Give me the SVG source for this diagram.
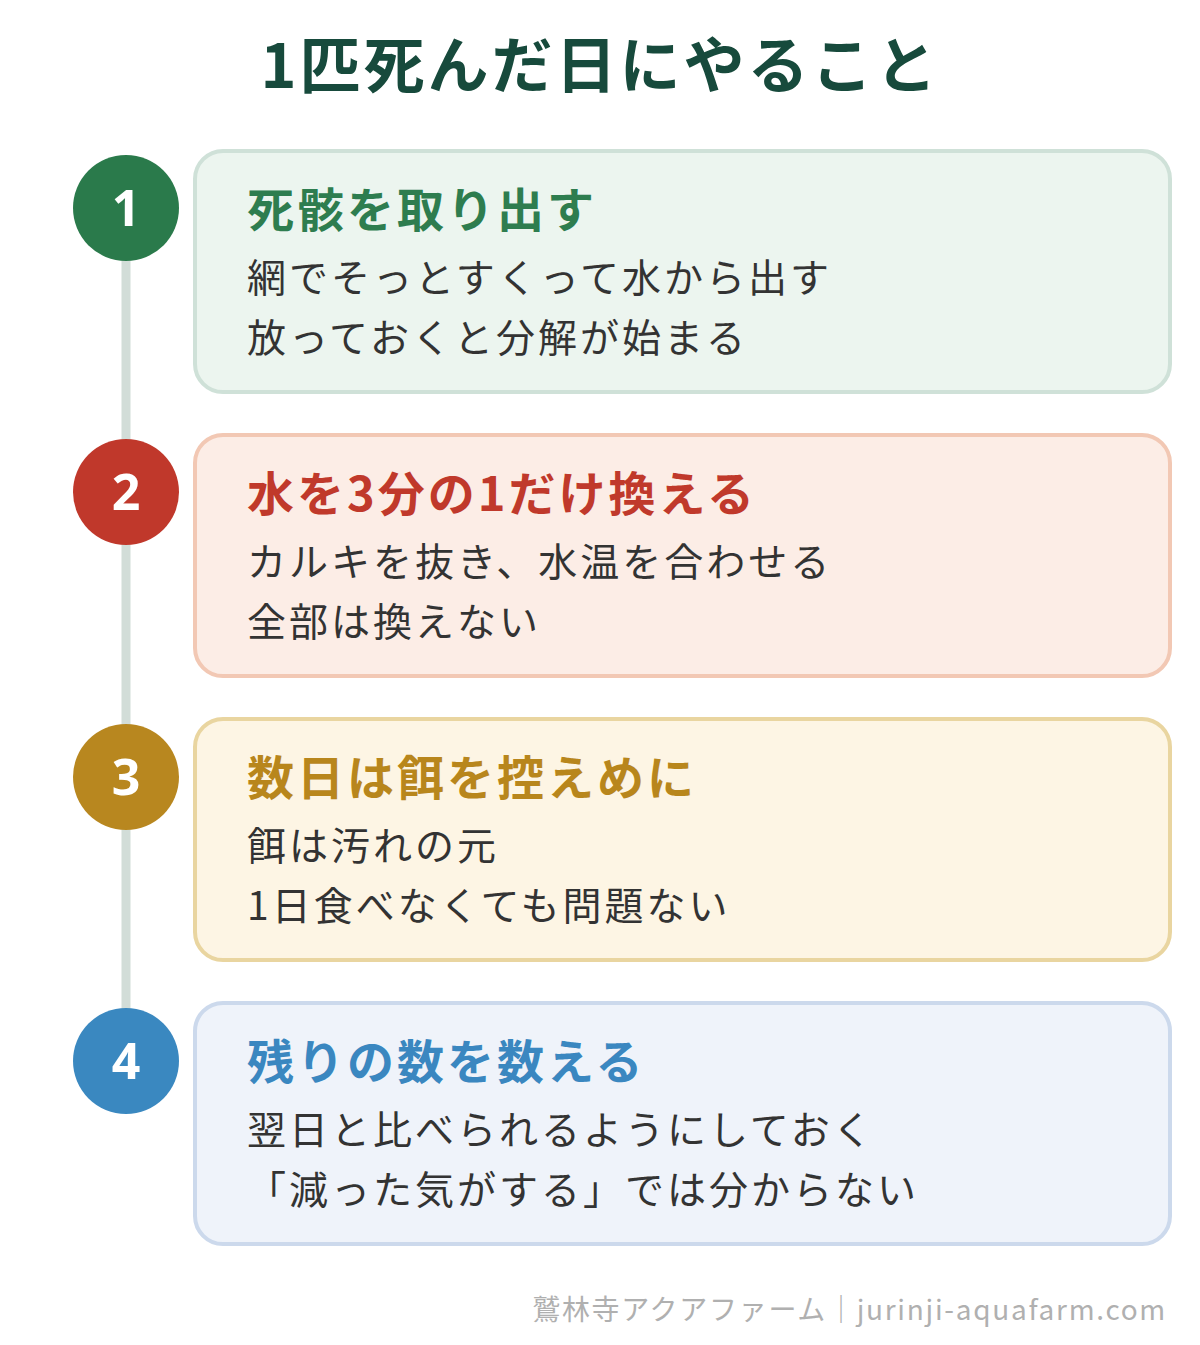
<svg xmlns="http://www.w3.org/2000/svg" width="1200" height="1345" viewBox="0 0 1200 1345">
<style>
text{font-family:"Noto Sans CJK JP","Noto Sans",sans-serif}
.h{font-size:47px;font-weight:700;letter-spacing:3px}
.b{font-size:39px;fill:#333;letter-spacing:3px}
.n{font-size:50px;font-weight:700;fill:#fff;text-anchor:middle;font-family:"Noto Sans",sans-serif}
.c{stroke-width:4}
</style>
<rect width="1200" height="1345" fill="#fff"/>
<text x="600" y="88" text-anchor="middle" font-size="61" font-weight="700" fill="#174a3c" letter-spacing="3">1匹死んだ日にやること</text>
<g id="connectors"><line x1="126" y1="208" x2="126" y2="1061" stroke="#d2ddd8" stroke-width="9"/></g>
<g id="step1">
<rect class="c" x="195" y="151" width="975" height="241" rx="28" fill="#ecf5ef" stroke="#cfe1d8"/>
<circle cx="126" cy="208" r="53" fill="#2a7a4b"/><text class="n" x="126" y="226">1</text>
<text class="h" x="247" y="227" fill="#2e7d4f">死骸を取り出す</text>
<text class="b" x="247" y="292">網でそっとすくって水から出す</text>
<text class="b" x="247" y="352">放っておくと分解が始まる</text>
</g>
<g id="step2">
<rect class="c" x="195" y="435" width="975" height="241" rx="28" fill="#fcede6" stroke="#f2c8b4"/>
<circle cx="126" cy="492" r="53" fill="#c0382b"/><text class="n" x="126" y="510">2</text>
<text class="h" x="247" y="511" fill="#c0392b">水を3分の1だけ換える</text>
<text class="b" x="247" y="576">カルキを抜き、水温を合わせる</text>
<text class="b" x="247" y="636">全部は換えない</text>
</g>
<g id="step3">
<rect class="c" x="195" y="719" width="975" height="241" rx="28" fill="#fdf5e4" stroke="#e9d5a0"/>
<circle cx="126" cy="777" r="53" fill="#b8871f"/><text class="n" x="126" y="795">3</text>
<text class="h" x="247" y="795" fill="#b8861c">数日は餌を控えめに</text>
<text class="b" x="247" y="860">餌は汚れの元</text>
<text class="b" x="247" y="920">1日食べなくても問題ない</text>
</g>
<g id="step4">
<rect class="c" x="195" y="1003" width="975" height="241" rx="28" fill="#eff3fa" stroke="#ccd9ec"/>
<circle cx="126" cy="1061" r="53" fill="#3a88c0"/><text class="n" x="126" y="1079">4</text>
<text class="h" x="247" y="1079" fill="#3a87c0">残りの数を数える</text>
<text class="b" x="247" y="1144">翌日と比べられるようにしておく</text>
<text class="b" x="247" y="1204">「減った気がする」では分からない</text>
</g>
<text x="1167" y="1320" text-anchor="end" font-size="28" fill="#b0b0b0" letter-spacing="1.7">鷲林寺アクアファーム｜jurinji-aquafarm.com</text>
</svg>
